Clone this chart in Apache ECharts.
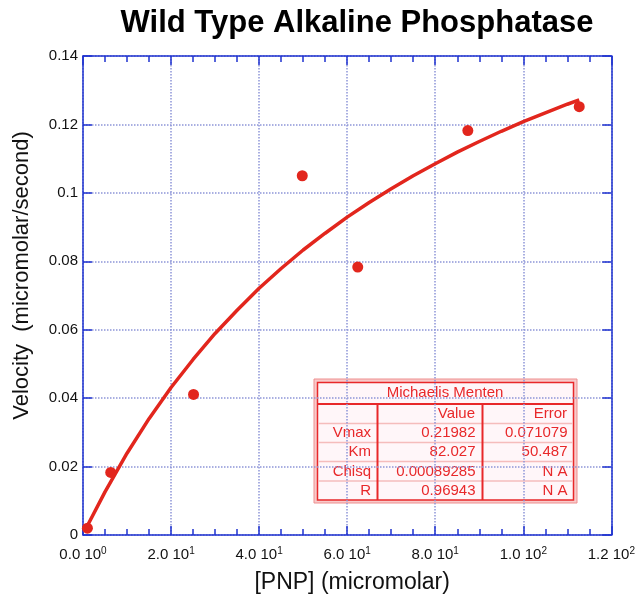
<!DOCTYPE html>
<html>
<head>
<meta charset="utf-8">
<script src="https://cdn.jsdelivr.net/npm/echarts@6/dist/echarts.min.js"></script>
<style>
html,body{margin:0;padding:0;background:#fff;}
#chart{width:638px;height:600px;}
</style>
</head>
<body>
<div id="chart"></div>
<script>
// ---- data ----
const pointX = [1.0, 6.3, 25.1, 49.8, 62.4, 87.4, 112.7];
const pointY = [0.0020, 0.0183, 0.0411, 0.1050, 0.0783, 0.1182, 0.1252];

const curveX = [1, 5, 10, 15, 20, 25, 30, 35, 40, 45, 50, 55, 60, 65, 70, 75, 80, 85, 90, 95, 100, 105, 110, 112.7];
const curveY = [0.0027, 0.0126, 0.0239, 0.0340, 0.0431, 0.0513, 0.0589, 0.0657, 0.0721, 0.0779, 0.0833, 0.0882,
                0.0929, 0.0972, 0.1012, 0.1050, 0.1085, 0.1119, 0.1150, 0.1180, 0.1208, 0.1234, 0.1259, 0.1272];

const xTickMantissa = ['0.0', '2.0', '4.0', '6.0', '8.0', '1.0', '1.2'];
const xTickExponent = ['0', '1', '1', '1', '1', '2', '2'];
const yTickLabels = ['0', '0.02', '0.04', '0.06', '0.08', '0.1', '0.12', '0.14'];

const tableTitle = 'Michaelis Menten';
const tableHeader = ['', 'Value', 'Error'];
const tableNames = ['Vmax', 'Km', 'Chisq', 'R'];
const tableValues = ['0.21982', '82.027', '0.00089285', '0.96943'];
const tableErrors = ['0.071079', '50.487', 'N A', 'N A'];

const titleText = 'Wild Type Alkaline Phosphatase';
const xName = '[PNP] (micromolar)';
const yName = 'Velocity  (micromolar/second)';

// ---- styling ----
const FONT = '"Liberation Sans", Arial, Helvetica, sans-serif';
const RED = '#e2261d';
const BLUE = '#1f33cf';
const GRIDC = '#8d95d8';
const TRED = '#e8282a';

const chart = echarts.init(document.getElementById('chart'), null, {renderer: 'canvas'});

// table graphic
const T = {x0: 314, y0: 379, w: 263, h: 124};
const col1 = 377.5, col2 = 482.5;
const rowCenters = [432.5, 452, 471.5, 490.5];
const rowLines = [423.5, 442.5, 461.5, 481];
const tableEls = [];
tableEls.push({type: 'rect', shape: {x: T.x0, y: T.y0, width: T.w, height: T.h},
  style: {fill: '#f8caca', stroke: '#ee8f8f', lineWidth: 1}});
tableEls.push({type: 'rect', shape: {x: 317.5, y: 382.5, width: 256, height: 117.5},
  style: {fill: '#fff6f9', stroke: TRED, lineWidth: 1.5}});
rowLines.forEach(function (y) {
  tableEls.push({type: 'line', shape: {x1: 318, y1: y, x2: 573, y2: y}, style: {stroke: '#f5bcbc', lineWidth: 1.5}});
});
tableEls.push({type: 'line', shape: {x1: 317.5, y1: 404, x2: 573.5, y2: 404}, style: {stroke: TRED, lineWidth: 2}});
tableEls.push({type: 'line', shape: {x1: col1, y1: 404, x2: col1, y2: 500}, style: {stroke: TRED, lineWidth: 2}});
tableEls.push({type: 'line', shape: {x1: col2, y1: 404, x2: col2, y2: 500}, style: {stroke: TRED, lineWidth: 2}});
const tFont = {fontFamily: FONT, fontSize: 15, fill: TRED};
tableEls.push({type: 'text', x: 445, y: 393,
  style: Object.assign({text: tableTitle, align: 'center', verticalAlign: 'middle'}, tFont)});
tableEls.push({type: 'text', x: 475, y: 413.5,
  style: Object.assign({text: tableHeader[1], align: 'right', verticalAlign: 'middle'}, tFont)});
tableEls.push({type: 'text', x: 567, y: 413.5,
  style: Object.assign({text: tableHeader[2], align: 'right', verticalAlign: 'middle'}, tFont)});
tableNames.forEach(function (n, i) {
  const y = rowCenters[i];
  tableEls.push({type: 'text', x: 371, y: y, style: Object.assign({text: n, align: 'right', verticalAlign: 'middle'}, tFont)});
  tableEls.push({type: 'text', x: 475.5, y: y, style: Object.assign({text: tableValues[i], align: 'right', verticalAlign: 'middle'}, tFont)});
  tableEls.push({type: 'text', x: 567.5, y: y, style: Object.assign({text: tableErrors[i], align: 'right', verticalAlign: 'middle'}, tFont)});
});

const xLabelFmt = function (v) {
  const i = Math.round(v / 20);
  return '{b|' + xTickMantissa[i] + ' 10}{s|' + xTickExponent[i] + '}';
};
const yLabelFmt = function (v) {
  return yTickLabels[Math.round(v / 0.02)];
};

const axisCommon = {
  axisLine: {show: true, onZero: false, lineStyle: {color: BLUE, width: 1.5}},
  axisTick: {show: true, inside: true, length: 9, lineStyle: {color: BLUE, width: 1.5}},
  splitLine: {show: false}
};

const option = {
  backgroundColor: '#ffffff',
  animation: false,
  title: {
    text: titleText, left: 352, top: 3, textAlign: 'center',
    textStyle: {fontFamily: FONT, fontWeight: 'bold', fontSize: 31, color: '#000'}
  },
  grid: {left: 83, right: 26, top: 56, bottom: 65, containLabel: false},
  xAxis: [
    Object.assign({}, axisCommon, {
      type: 'value', min: 0, max: 120, interval: 20, position: 'bottom',
      name: xName, nameLocation: 'middle', nameGap: 36,
      nameTextStyle: {fontFamily: FONT, fontSize: 23, color: '#111', padding: [0, 0, 0, 10]},
      minorTick: {show: true, splitNumber: 4, length: 6, lineStyle: {color: BLUE, width: 1.5}},
      splitLine: {show: true, lineStyle: {color: GRIDC, type: 'dotted', width: 1.5}},
      axisLabel: {
        show: true, margin: 11, formatter: xLabelFmt,
        rich: {
          b: {fontFamily: FONT, fontSize: 15, color: '#111', lineHeight: 18},
          s: {fontFamily: FONT, fontSize: 10, color: '#111', verticalAlign: 'top', lineHeight: 10}
        }
      }
    }),
    Object.assign({}, axisCommon, {
      type: 'value', min: 0, max: 120, interval: 20, position: 'top',
      minorTick: {show: true, splitNumber: 4, length: 6, lineStyle: {color: BLUE, width: 1.5}},
      axisLabel: {show: false}
    })
  ],
  yAxis: [
    Object.assign({}, axisCommon, {
      type: 'value', min: 0, max: 0.14, interval: 0.02, position: 'left',
      name: yName, nameLocation: 'middle', nameGap: 50, nameRotate: 90,
      nameTextStyle: {fontFamily: FONT, fontSize: 22, color: '#111', padding: [0, 0, 0, 40]},
      splitLine: {show: true, lineStyle: {color: GRIDC, type: 'dotted', width: 1.5}},
      axisLabel: {show: true, margin: 5, formatter: yLabelFmt,
        fontFamily: FONT, fontSize: 15, color: '#111'}
    }),
    Object.assign({}, axisCommon, {
      type: 'value', min: 0, max: 0.14, interval: 0.02, position: 'right',
      axisLabel: {show: false}
    })
  ],
  series: [
    {
      type: 'line', name: 'fit', xAxisIndex: 0, yAxisIndex: 0,
      data: curveX.map(function (x, i) { return [x, curveY[i]]; }),
      showSymbol: false, smooth: false, clip: true,
      lineStyle: {color: RED, width: 3.5}, z: 3
    },
    {
      type: 'scatter', name: 'data', xAxisIndex: 0, yAxisIndex: 0,
      data: pointX.map(function (x, i) { return [x, pointY[i]]; }),
      symbol: 'circle', symbolSize: 11,
      itemStyle: {color: RED, opacity: 1}, z: 4
    }
  ],
  graphic: [{type: 'group', z: 100, children: tableEls}]
};
chart.setOption(option);
</script>
</body>
</html>
